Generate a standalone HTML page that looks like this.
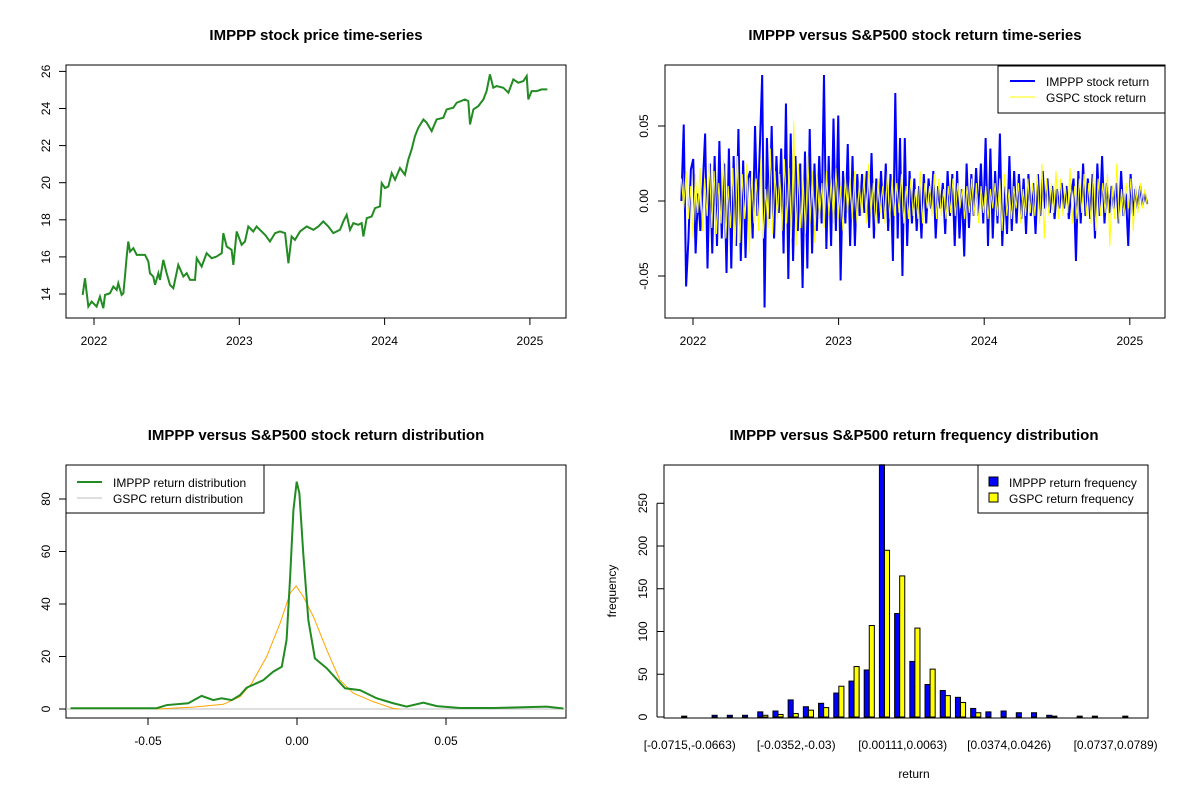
<!DOCTYPE html>
<html><head><meta charset="utf-8"><style>
html,body{margin:0;padding:0;background:#fff;}
svg{display:block;font-family:"Liberation Sans",Arial,sans-serif;}
.t{font-weight:bold;font-size:15px;text-anchor:middle;}
.tk{font-size:12px;}
</style></head><body>
<svg id="s" width="1200" height="800" viewBox="0 0 1200 800" xmlns="http://www.w3.org/2000/svg">
<rect width="1200" height="800" fill="#fff"/>
<text class="t" x="316" y="40">IMPPP stock price time-series</text>
<text class="t" x="915" y="40">IMPPP versus S&amp;P500 stock return time-series</text>
<text class="t" x="316" y="440">IMPPP versus S&amp;P500 stock return distribution</text>
<text class="t" x="914" y="440">IMPPP versus S&amp;P500 return frequency distribution</text>
<g id="g1"></g>
<g id="g2"></g>
<g id="g3"></g>
<g id="g4"></g>
</svg>
<script>
// ---- panel 1 data ----
const priceDates=[2021.922,2021.938,2021.950,2021.961,2021.984,2022.018,2022.041,2022.064,2022.076,2022.110,2022.133,2022.156,2022.167,2022.190,2022.202,2022.213,2022.225,2022.236,2022.248,2022.271,2022.294,2022.351,2022.374,2022.385,2022.408,2022.420,2022.443,2022.454,2022.477,2022.500,2022.523,2022.546,2022.580,2022.615,2022.638,2022.661,2022.695,2022.707,2022.741,2022.775,2022.810,2022.844,2022.879,2022.890,2022.913,2022.947,2022.959,2022.982,2023.016,2023.039,2023.062,2023.096,2023.119,2023.142,2023.177,2023.211,2023.246,2023.280,2023.315,2023.338,2023.360,2023.383,2023.418,2023.464,2023.510,2023.544,2023.578,2023.613,2023.647,2023.693,2023.716,2023.739,2023.762,2023.785,2023.819,2023.842,2023.854,2023.877,2023.911,2023.934,2023.968,2023.980,2024.003,2024.026,2024.049,2024.072,2024.106,2024.140,2024.163,2024.186,2024.209,2024.232,2024.267,2024.290,2024.324,2024.358,2024.404,2024.427,2024.473,2024.496,2024.553,2024.576,2024.588,2024.611,2024.645,2024.680,2024.702,2024.725,2024.748,2024.771,2024.817,2024.852,2024.886,2024.920,2024.955,2024.978,2024.989,2025.012,2025.047,2025.081,2025.120];
const priceValues=[13.95,14.85,14.04,13.32,13.59,13.32,13.86,13.23,13.95,14.04,14.40,14.22,14.58,13.95,14.04,14.94,16.02,16.83,16.29,16.47,16.11,16.11,15.75,15.12,14.94,14.49,15.12,14.76,15.84,15.12,14.49,14.31,15.57,14.94,15.12,14.76,14.76,15.93,15.48,16.20,15.93,16.02,16.20,17.28,16.56,16.38,15.57,17.37,16.65,16.83,17.64,17.37,17.64,17.46,17.19,16.83,17.28,17.37,17.28,15.66,17.10,16.92,17.37,17.64,17.46,17.64,17.91,17.64,17.28,17.46,17.91,18.27,17.46,17.82,17.73,17.82,17.10,18.09,18.18,18.63,18.72,19.98,19.71,19.80,20.52,20.16,20.79,20.43,21.24,21.79,22.51,22.96,23.41,23.23,22.78,23.41,23.50,23.95,24.04,24.31,24.49,24.40,23.14,23.95,24.13,24.49,24.94,25.84,25.12,25.21,25.12,24.85,25.57,25.39,25.48,25.75,24.49,24.94,24.94,25.03,25.03];
const yearTicks=[2022,2023,2024,2025];
const priceTicks=[14,16,18,20,22,24,26];
// ---- panel 2 data (thousandths) ----
const imppReturns=[0,51,-57,-25,21,28,-35,5,-20,10,45,-45,25,-35,30,-30,40,-25,25,-48,35,-45,30,-30,48,-40,27,-38,15,20,-25,50,-10,35,84,-71,42,-12,50,-25,30,-8,35,-35,65,-52,45,-40,30,-20,25,-58,33,-45,48,-35,25,-20,30,-15,84,-32,30,-30,55,-20,57,-53,20,-15,38,-30,30,-30,18,-10,18,-8,20,-18,32,-25,15,-15,20,-12,25,-20,18,-40,72,-25,42,-50,42,-30,20,-15,15,-20,10,-25,18,-15,15,-5,20,-25,10,-5,12,-22,20,-10,18,-30,20,-25,8,-37,25,-18,18,-10,22,-10,25,-15,42,-30,35,-25,20,-15,45,-30,10,-22,30,-20,20,-15,18,-12,15,-22,18,-10,12,-22,18,-10,20,-5,15,-8,10,-12,8,-5,12,-5,10,-12,5,15,-40,20,-15,25,-10,15,-12,18,-25,25,-10,30,-15,12,-8,10,-5,12,-15,20,-10,5,-30,18,-10,8,-5,10,-3,5,-2];
const gspcReturns=[15,-5,20,-12,10,-25,18,-8,22,-20,15,-10,25,-18,20,-22,12,-15,28,-25,10,-18,22,-30,30,-28,18,-12,25,-35,20,-15,15,-20,30,-25,8,-18,35,-22,20,-12,18,-20,28,-15,22,-25,53,-30,25,-18,15,-22,30,-15,20,-28,18,-12,12,-18,20,-10,15,-15,22,-12,10,-20,18,-8,15,-12,20,-15,12,-10,18,-15,25,-10,12,-18,15,-8,10,-15,20,-12,15,-10,12,-8,18,-15,10,-12,15,-10,8,-12,20,-15,12,-5,10,-10,18,-12,15,-10,8,-12,10,-8,15,-10,12,-5,8,-12,10,-8,15,-10,12,-15,10,-8,10,-12,8,-5,12,-10,15,-20,18,-10,8,-12,10,-5,12,-15,8,-10,15,-8,12,-10,18,-15,25,-25,15,-10,12,-8,20,-12,15,-10,10,-8,22,-15,10,-12,15,-8,18,-10,12,-15,20,-20,15,-10,12,-8,18,-30,10,-12,25,-15,8,-10,12,-5,15,-20,10,-8,12,-5,8,-3];
const returnStart=2021.92, returnEnd=2025.12;
const returnTicks=[-0.05,0,0.05];
// ---- panel 3 data ----
const impppDensX=[-0.076,-0.0471,-0.0437,-0.0365,-0.032,-0.0281,-0.0253,-0.0219,-0.0191,-0.0169,-0.0113,-0.008,-0.0051,-0.0035,-0.0023,-0.0012,-0.0001,0.0008,0.0021,0.0038,0.006,0.01,0.0161,0.0211,0.0267,0.0323,0.0368,0.0424,0.0469,0.0547,0.0659,0.0838,0.0894];
const impppDensY=[0.3,0.3,1.5,2.2,5.0,3.4,4.1,3.4,5.3,8.1,11.0,14.2,16.1,26.3,50.4,75.8,86.6,82.2,59.3,33.9,19.3,15.5,7.9,7.2,4.1,2.2,0.9,2.4,1.1,0.4,0.4,0.9,0.2];
const gspcDensX=[-0.0471,-0.0348,-0.0247,-0.0191,-0.0152,-0.0102,-0.0057,-0.0023,-0.0003,0.0021,0.0055,0.01,0.0144,0.0189,0.0256,0.0323,0.0345];
const gspcDensY=[0,0.7,1.8,4.7,9.8,19.9,32.6,44.1,46.9,42.8,35.2,22.5,11.0,6.0,2.8,0.2,0];
const densXTicks=[-0.05,0,0.05];
const densYTicks=[0,20,40,60,80];
// ---- panel 4 data ----
const binLabels=["[-0.0715,-0.0663)","","","","","","","[-0.0352,-0.03)","","","","","","","[0.00111,0.0063)","","","","","","","[0.0374,0.0426)","","","","","","","[0.0737,0.0789)",""];
const impppFreq=[1,0,2,2,2,6,7,20,12,16,28,42,55,295,121,65,38,31,23,10,6,7,5,5,2,0,1,1,0,1];
const gspcFreq=[0,0,0,0,0,2,3,4,8,11,36,59,107,195,165,104,56,25,17,5,0,0,0,0,1,0,0,0,0,0];
const freqTicks=[0,50,100,150,200,250];

const NS="http://www.w3.org/2000/svg";
function mk(parent,tag,attrs,text){const e=document.createElementNS(NS,tag);for(const k in attrs)e.setAttribute(k,attrs[k]);if(text!==undefined)e.textContent=text;parent.appendChild(e);return e;}
function box(g,x0,y0,x1,y1,name){const r=mk(g,'rect',{x:x0,y:y0,width:x1-x0,height:y1-y0,fill:'none',stroke:'#000','stroke-width':1});

}
function xTick(g,x,yb,label,name){const l=mk(g,'line',{x1:x,x2:x,y1:yb,y2:yb+7,stroke:'#000'});


const t=mk(g,'text',{x:x,y:yb+27,'text-anchor':'middle',class:'tk'},label);

}
function yTick(g,xl,y,label,name,lx){const l=mk(g,'line',{x1:xl-7,x2:xl,y1:y,y2:y,stroke:'#000'});


const t=mk(g,'text',{x:lx,y:y,'text-anchor':'middle',class:'tk',transform:`rotate(-90 ${lx} ${y})`},label);

}

// Panel 1
(function(){const g=document.getElementById('g1');
const X=v=>94+(v-2022)*145.3, Y=v=>294-(v-14)*18.55;
box(g,66,65,566,318,'price-plot-frame');
yearTicks.forEach(t=>xTick(g,X(t),318,String(t),'price-x-axis'));
mk(g,'line',{x1:X(2022),x2:X(2025),y1:318,y2:318,stroke:'#000'});
priceTicks.forEach(t=>yTick(g,66,Y(t),String(t),'price-y-axis',50));
mk(g,'line',{x1:59,x2:59,y1:Y(14),y2:Y(26),stroke:'#000'}).setAttribute('transform','translate(7,0)');
const p=mk(g,'polyline',{points:priceDates.map((d,i)=>X(d)+','+Y(priceValues[i])).join(' '),fill:'none',stroke:'#228B22','stroke-width':2});


})();

// Panel 2
(function(){const g=document.getElementById('g2');
const X=v=>693+(v-2022)*145.6, Y=v=>201-v*1500;
box(g,665,65,1165,318,'return-plot-frame');
yearTicks.forEach(t=>xTick(g,X(t),318,String(t),'return-x-axis'));
returnTicks.forEach(t=>yTick(g,665,Y(t),t===0?'0.00':String(t),'return-y-axis',648));
const pts=(arr)=>arr.map((v,i)=>X(returnStart+(returnEnd-returnStart)*i/(arr.length-1))+','+Y(v/1000)).join(' ');
const b=mk(g,'polyline',{points:pts(imppReturns),fill:'none',stroke:'#0000FF','stroke-width':2});


const y=mk(g,'polyline',{points:pts(gspcReturns),fill:'none',stroke:'#FFFF00','stroke-width':1});


const lg=mk(g,'g',{});


mk(lg,'rect',{x:998,y:66,width:167,height:47,fill:'#fff',stroke:'#000'});
mk(lg,'line',{x1:1010,x2:1035,y1:81,y2:81,stroke:'#0000FF','stroke-width':2});
mk(lg,'line',{x1:1010,x2:1035,y1:97,y2:97,stroke:'#FFFF00','stroke-width':1});
mk(lg,'text',{x:1046,y:86,class:'tk'},'IMPPP stock return');
mk(lg,'text',{x:1046,y:102,class:'tk'},'GSPC stock return');
})();

// Panel 3
(function(){const g=document.getElementById('g3');
const X=v=>297+v*2980, Y=v=>709-v*2.625;
box(g,66,465,566,718,'density-plot-frame');
densXTicks.forEach(t=>xTick(g,X(t),718,t===0?'0.00':String(t),'density-x-axis'));
densYTicks.forEach(t=>yTick(g,66,Y(t),String(t),'density-y-axis',50));
mk(g,'line',{x1:66,x2:566,y1:Y(0),y2:Y(0),stroke:'#BEBEBE'});
const o=mk(g,'polyline',{points:gspcDensX.map((x,i)=>X(x)+','+Y(gspcDensY[i])).join(' '),fill:'none',stroke:'#FFA500','stroke-width':1});


const gr=mk(g,'polyline',{points:impppDensX.map((x,i)=>X(x)+','+Y(impppDensY[i])).join(' '),fill:'none',stroke:'#228B22','stroke-width':2});


const lg=mk(g,'g',{});


mk(lg,'rect',{x:66,y:465,width:198,height:48,fill:'#fff',stroke:'#000'});
mk(lg,'line',{x1:77,x2:102,y1:482,y2:482,stroke:'#228B22','stroke-width':2});
mk(lg,'line',{x1:77,x2:102,y1:498,y2:498,stroke:'#BEBEBE','stroke-width':1});
mk(lg,'text',{x:113,y:487,class:'tk'},'IMPPP return distribution');
mk(lg,'text',{x:113,y:503,class:'tk'},'GSPC return distribution');
})();

// Panel 4
(function(){const g=document.getElementById('g4');
const u=5.07, x0=676.6;
const Y=v=>717-Math.min(v,295)*0.855;
freqTicks.forEach(t=>yTick(g,664,Y(t),String(t),'frequency-y-axis',647));
mk(g,'line',{x1:657,x2:657,y1:Y(0),y2:Y(250),stroke:'#000'});
impppFreq.forEach((v,i)=>{const xb=x0+(3*i+1)*u;
const r=mk(g,'rect',{x:xb,y:Y(v),width:u,height:717-Y(v),fill:'#0000FF',stroke:'#000','stroke-width':1});


const v2=gspcFreq[i];
const r2=mk(g,'rect',{x:xb+u,y:Y(v2),width:u,height:717-Y(v2),fill:'#FFFF00',stroke:'#000','stroke-width':1});


if(binLabels[i]){const t=mk(g,'text',{x:xb+u+3,y:749,'text-anchor':'middle',class:'tk'},binLabels[i]);

}
});
box(g,664,465,1148,718,'histogram-plot-frame');
const yl=mk(g,'text',{x:616,y:591,'text-anchor':'middle',class:'tk',transform:'rotate(-90 616 591)'},'frequency');


const xl=mk(g,'text',{x:914,y:778,'text-anchor':'middle',class:'tk'},'return');


const lg=mk(g,'g',{});


mk(lg,'rect',{x:978,y:465,width:170,height:48,fill:'#fff',stroke:'#000'});
mk(lg,'rect',{x:989,y:477,width:9,height:9,fill:'#0000FF',stroke:'#000'});
mk(lg,'rect',{x:989,y:493,width:9,height:9,fill:'#FFFF00',stroke:'#000'});
mk(lg,'text',{x:1009,y:487,class:'tk'},'IMPPP return frequency');
mk(lg,'text',{x:1009,y:503,class:'tk'},'GSPC return frequency');
})();
</script>
</body></html>
